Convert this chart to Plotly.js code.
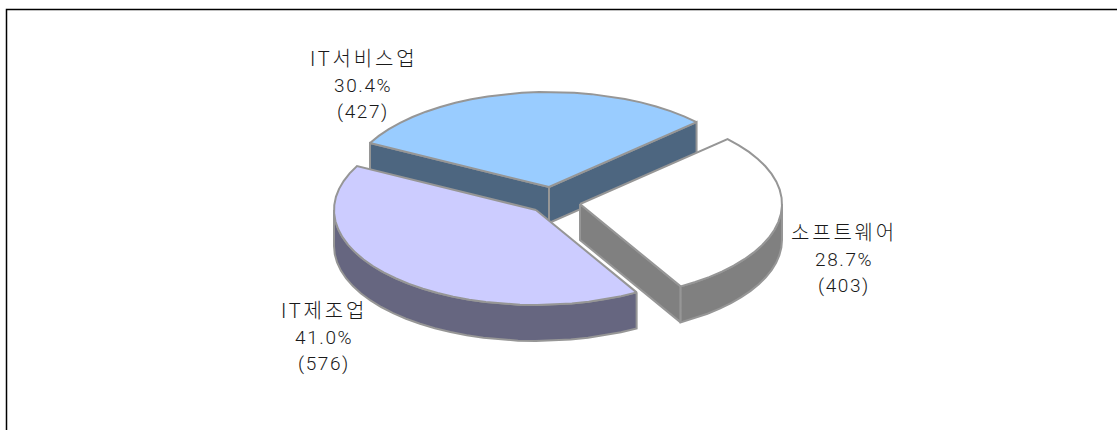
<!DOCTYPE html>
<html><head><meta charset="utf-8">
<script src="https://cdn.plot.ly/plotly-3.0.1.min.js"></script>
<style>html,body{margin:0;padding:0;background:#fff}</style>
</head><body><div id="chart" style="width:1117px;height:430px"></div>
<script>
const categories = ["IT서비스업", "소프트웨어", "IT제조업"];
const counts = [427, 403, 576];
const percents = ["30.4%", "28.7%", "41.0%"];

const topColors = ["#99ccff", "#ffffff", "#ccccff"];
const wallColors = ["#4d6680", "#808080", "#666680"];
const apexes = [[549,187],[580,204],[536,210]];
const labelPos = [[363,59],[844,233],[324,311]];
const startAngle = -62.4, RX = 202, RY = 95, DEPTH = 36, EDGE = "#969696";

const total = counts.reduce((a,b)=>a+b,0);
let traces = [];
function pt(c, deg, dy){ const r = deg*Math.PI/180;
  return [c[0]+RX*Math.sin(r), c[1]-RY*Math.cos(r)+(dy||0)]; }
function arc(c, a, b, dy){ const n = Math.max(2,Math.ceil(Math.abs(b-a)/5)), o=[];
  for(let i=0;i<=n;i++) o.push(pt(c,a+(b-a)*i/n,dy)); return o; }
function poly(p, fill){ const q = p.concat([p[0]]);
  traces.push({type:"scatter",mode:"lines",x:q.map(v=>v[0]),y:q.map(v=>v[1]),fill:"toself",
    fillcolor:fill,line:{color:EDGE,width:2,shape:"linear"},hoverinfo:"skip",showlegend:false}); }
function flatWall(c, deg, fill){ const e=pt(c,deg);
  poly([c,e,[e[0],e[1]+DEPTH],[c[0],c[1]+DEPTH]],fill); }
function arcWall(c,a,b,fill){ const top=arc(c,a,b,0), bot=arc(c,a,b,DEPTH).reverse();
  poly(top.concat(bot),fill); }

let angles=[], cur=startAngle;
counts.forEach(v=>{ const s=v/total*360; angles.push([cur,cur+s]); cur+=s; });

flatWall(apexes[0],angles[0][0],wallColors[0]);
flatWall(apexes[0],angles[0][1],wallColors[0]);
poly([apexes[0]].concat(arc(apexes[0],angles[0][0],angles[0][1])),topColors[0]);
flatWall(apexes[1],angles[1][1],wallColors[1]);
arcWall(apexes[1],90,angles[1][1],wallColors[1]);
poly([apexes[1]].concat(arc(apexes[1],angles[1][0],angles[1][1])),topColors[1]);
arcWall(apexes[2],angles[2][0],270,wallColors[2]);
poly([apexes[2]].concat(arc(apexes[2],angles[2][0],angles[2][1])),topColors[2]);

const family="'Roboto','Noto Sans CJK KR',sans-serif";
let annotations=[];
categories.forEach((c,i)=>{
  [c,percents[i],"("+counts[i]+")"].forEach((t,j)=>{
    const sp = j===0 ? 2.8 : 1.6;
    annotations.push({xref:"x",yref:"y",x:labelPos[i][0],y:labelPos[i][1]+26*j,
      text:'<span style="letter-spacing:'+sp+'px">'+t+'</span>',showarrow:false,
      xanchor:"center",yanchor:"middle",
      font:{family:family,size:j===0?20:19,color:"#1a1a1a",weight:300}});
  });
});
const frame={type:"path",path:"M6.5,430 L6.5,9.5 L1117,9.5",line:{color:"#000",width:1.5},xref:"x",yref:"y"};
Plotly.newPlot("chart",traces,{
  width:1117,height:430,margin:{l:0,r:0,t:0,b:0},paper_bgcolor:"#fff",plot_bgcolor:"#fff",
  xaxis:{range:[0,1117],visible:false,fixedrange:true},
  yaxis:{range:[430,0],visible:false,fixedrange:true},
  annotations:annotations,shapes:[frame],showlegend:false
},{displayModeBar:false,staticPlot:true});
</script></body></html>
